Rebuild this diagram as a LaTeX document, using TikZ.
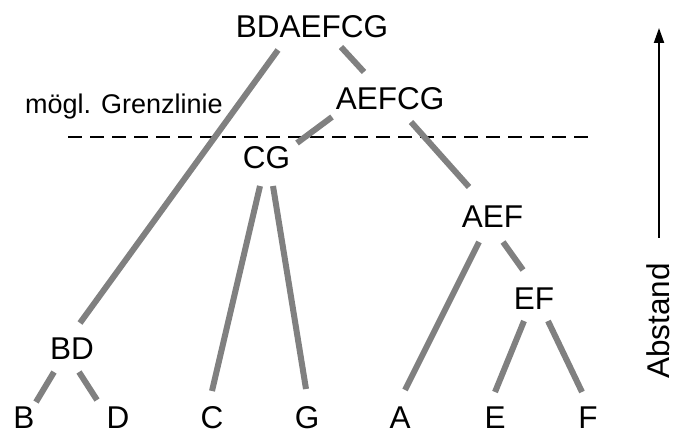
\documentclass[tikz,border=0pt]{standalone}
\usepackage{fontspec}
\newfontfamily\labfont{Liberation Sans}
\usetikzlibrary{arrows.meta}
\tikzset{
  lbl/.style={font=\labfont\fontsize{31.5}{31.5}\selectfont, inner sep=0pt,
              text height=22.5pt, text depth=0pt},
  note/.style={font=\labfont\fontsize{27}{27}\selectfont, inner sep=0pt,
              text height=19.3pt, text depth=0pt},
  edge/.style={draw=gray, line width=6pt},
  cut/.style={draw=black, line width=1.8pt, dash pattern=on 14pt off 8pt},
  axis/.style={draw=black, line width=2pt, -{Triangle[length=15pt,width=10pt]}}
}
\begin{document}
\begin{tikzpicture}[x=1pt,y=-1pt]
  \useasboundingbox (0,0) rectangle (676,435);

  % cluster nodes
  \node[lbl] (root)  at (312,26)    {BDAEFCG};
  \node[lbl] (aefcg) at (390,98)    {AEFCG};
  \node[lbl] (cg)    at (266.5,157.5) {CG};
  \node[lbl] (aef)   at (492.5,216) {AEF};
  \node[lbl] (ef)    at (534,298)   {EF};
  \node[lbl] (bd)    at (72,348)    {BD};

  % leaves
  \node[lbl] (b) at (24,417)  {B};
  \node[lbl] (d) at (118,417) {D};
  \node[lbl] (c) at (212,417) {C};
  \node[lbl] (g) at (307,417) {G};
  \node[lbl] (a) at (400,417) {A};
  \node[lbl] (e) at (495,417) {E};
  \node[lbl] (f) at (588,417) {F};

  % threshold label and dashed cut line
  \node[note, anchor=west] (cutlabel) at (25,104) {mögl. Grenzlinie};
  \coordinate (cutL) at (68,137);
  \coordinate (cutR) at (592,137);
  \draw[cut] (cutL) -- (cutR);

  % tree branches
  \draw[edge] ([shift={(-34,24)}]root.center)   -- ([shift={(8,-25)}]bd.center);
  \draw[edge] ([shift={(29,21)}]root.center)    -- ([shift={(-26,-26)}]aefcg.center);
  \draw[edge] ([shift={(-58,19)}]aefcg.center)  -- ([shift={(30.5,-14.5)}]cg.center);
  \draw[edge] ([shift={(21,24)}]aefcg.center)   -- ([shift={(-23.5,-29)}]aef.center);
  \draw[edge] ([shift={(-6.5,28.5)}]cg.center)  -- ([shift={(0,-26)}]c.center);
  \draw[edge] ([shift={(6.5,28.5)}]cg.center)   -- ([shift={(-1,-28)}]g.center);
  \draw[edge] ([shift={(-13.5,26)}]aef.center)  -- ([shift={(5,-27)}]a.center);
  \draw[edge] ([shift={(10.5,26)}]aef.center)   -- ([shift={(-11,-28)}]ef.center);
  \draw[edge] ([shift={(-10,23)}]ef.center)     -- ([shift={(0,-25)}]e.center);
  \draw[edge] ([shift={(14,23)}]ef.center)      -- ([shift={(-6,-25)}]f.center);
  \draw[edge] ([shift={(-18,24)}]bd.center)     -- ([shift={(12,-15)}]b.center);
  \draw[edge] ([shift={(7,24)}]bd.center)       -- ([shift={(-21,-17)}]d.center);

  % distance axis
  \node[lbl, rotate=90] (abstand) at (658,321) {Abstand};
  \coordinate (axisBottom) at (659,238);
  \coordinate (axisTop) at (659,28);
  \draw[axis] (axisBottom) -- (axisTop);
\end{tikzpicture}
\end{document}
